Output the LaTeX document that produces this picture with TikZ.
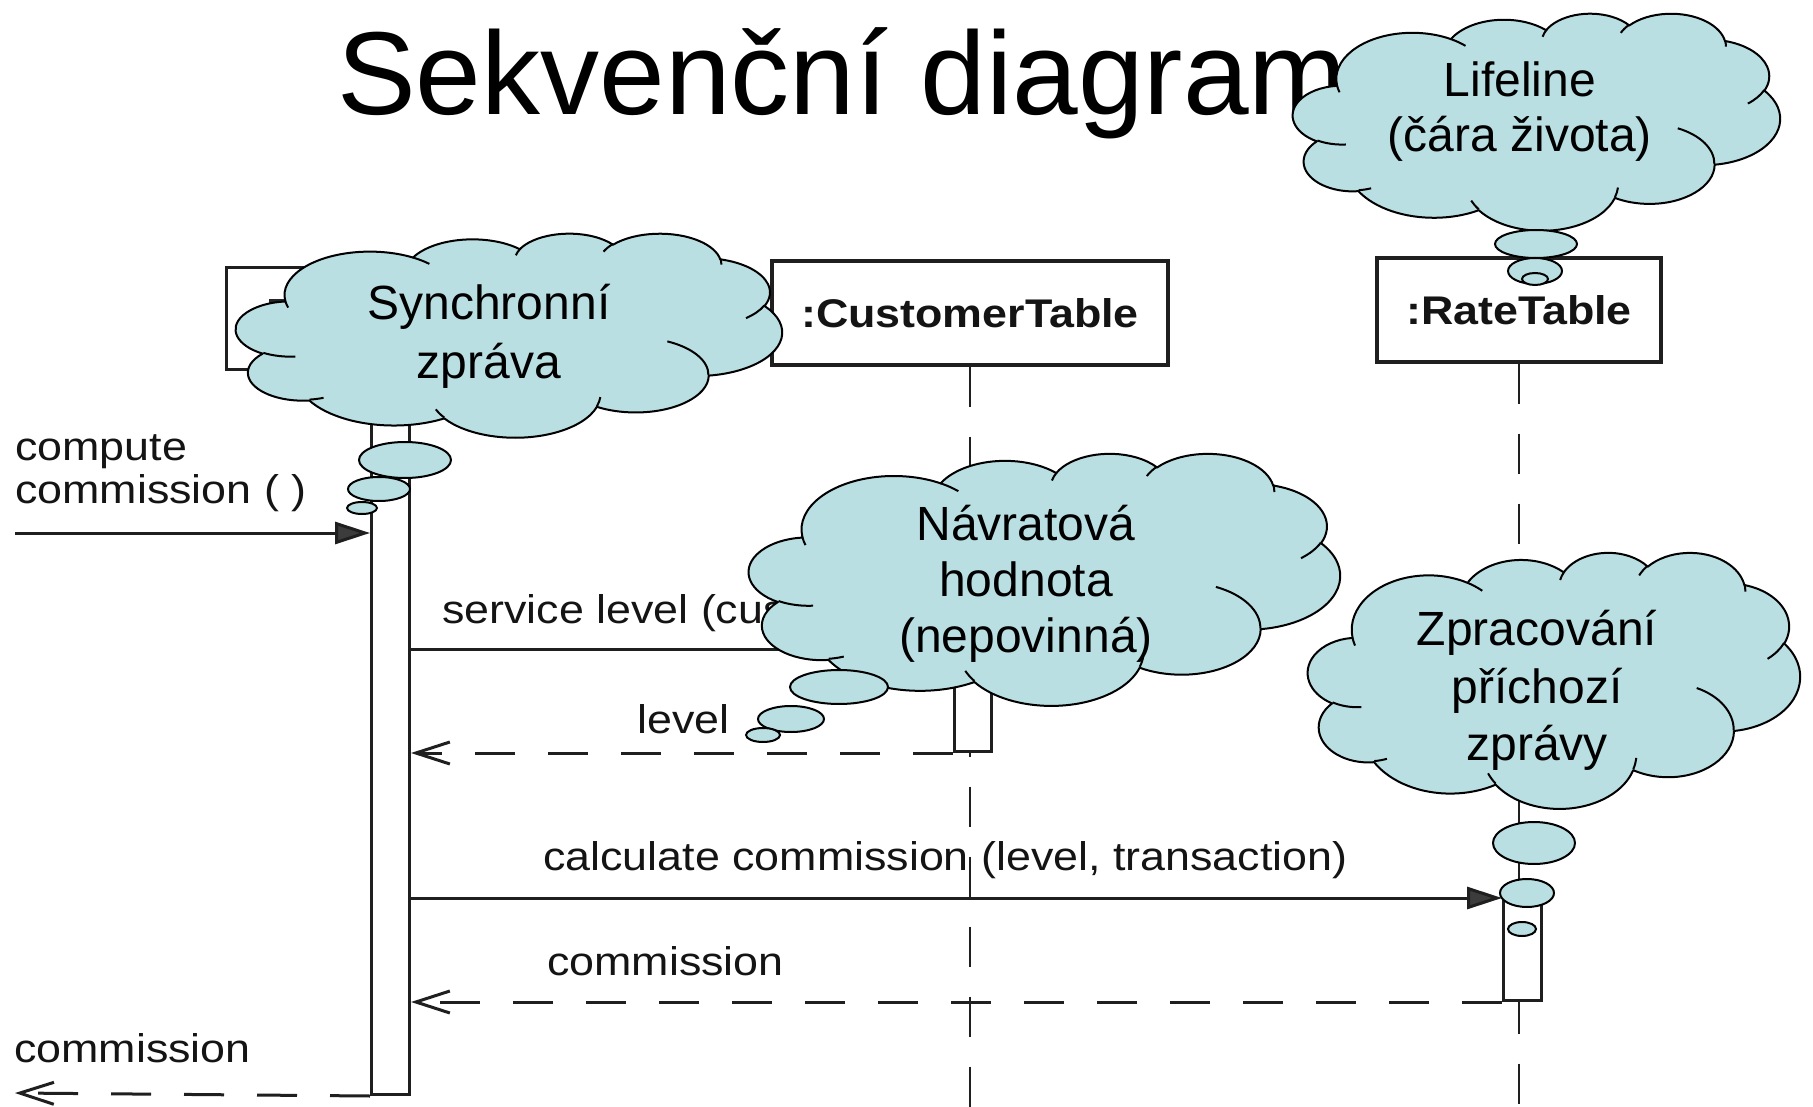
\documentclass[tikz,border=0pt]{standalone}
\usepackage{fontspec}
\setmainfont{Liberation Sans}
\newfontfamily\dfont[FakeStretch=1.12]{Liberation Sans}
\usetikzlibrary{arrows.meta}
\definecolor{cloudblue}{RGB}{185,223,227}
\definecolor{headgray}{RGB}{60,60,60}
\newcommand\carc[4]{arc[x radius=#1,y radius=#2,start angle={atan2((#1)*sin(#3),(#2)*cos(#3))},delta angle={mod(atan2((#1)*sin((#3)+(#4)),(#2)*cos((#3)+(#4)))-atan2((#1)*sin(#3),(#2)*cos(#3))+720,360)}]}
\newcommand\drawcloud[4]{%
\begin{scope}[shift={(#1,#2)},xscale={#3/432},yscale={#4/432}]
\filldraw[cloudshape] (39.00,143.70) \carc{67.53}{91.90}{-190.4875}{123.7805}
 \carc{53.33}{72.67}{-144.1024}{89.9452}
 \carc{43.65}{59.45}{-145.8079}{99.7230}
 \carc{48.57}{65.95}{-130.9861}{117.2417}
 \carc{53.33}{72.73}{-78.7089}{109.0269}
 \carc{67.75}{92.20}{-46.2673}{130.2690}
 \carc{57.85}{78.67}{0.6250}{114.0333}
 \carc{67.52}{92.15}{22.4516}{115.1726}
 \carc{77.20}{105.43}{66.2426}{75.7110}
 \carc{43.60}{59.18}{-274.9421}{146.7356}
 \carc{43.45}{59.45}{-246.8285}{152.5189} -- cycle;
\draw[cloudline] (46.93,261.77) \carc{43.45}{59.45}{86.7420}{26.4295}
 (69.28,348.99) \carc{43.60}{59.18}{73.6105}{11.4475}
 (164.78,390.90) \carc{67.52}{92.15}{137.6242}{14.0811}
 (288.27,347.51) \carc{67.52}{92.15}{6.4533}{15.9984}
 (341.29,229.54) \carc{57.85}{78.67}{-70.2924}{70.9174}
 (417.98,153.54) \carc{53.33}{72.73}{30.3180}{27.7515}
 (383.24,54.26) \carc{48.57}{65.95}{-13.7443}{14.8589}
 (290.78,39.52) \carc{48.57}{65.95}{-149.1815}{18.1954}
 (221.41,47.20) \carc{43.65}{59.45}{-163.4943}{17.6864}
 (140.00,51.92) \carc{67.53}{91.90}{-66.7070}{12.3194}
 (41.27,157.89) \carc{67.53}{91.90}{157.6544}{11.8582};
\end{scope}}
\tikzset{
 cloudshape/.style={draw=black,line width=2pt,fill=cloudblue,line join=round},
 cloudline/.style={draw=black,line width=2pt},
 bubble/.style={draw=black,line width=2pt,fill=cloudblue},
 objbox/.style={draw=black!88,line width=3.2pt,fill=white,inner sep=0pt},
 actbar/.style={draw=black!88,line width=3pt,fill=white,inner sep=0pt,anchor=north west},
 lifeline/.style={draw=black!88,line width=2.8pt,dash pattern=on 40pt off 30pt},
 callmsg/.style={draw=black!88,line width=3pt,-{Triangle[length=35pt,width=22pt,fill=headgray]}},
 retmsg/.style={draw=black!88,line width=3pt,dash pattern=on 40pt off 33pt,-{Straight Barb[length=34pt,width=22pt]}},
 lbl/.style={inner sep=0pt,anchor=base west,text=black!92,font=\dfont\fontsize{40}{46}\selectfont},
 objlbl/.style={text=black!92,font=\dfont\bfseries\fontsize{40}{46}\selectfont},
 cloudtxt/.style={inner sep=0pt,anchor=base,font=\fontsize{48}{56}\selectfont},
}
\begin{document}
\begin{tikzpicture}[x=1pt,y=-1pt]
\useasboundingbox (0,0) rectangle (1813,1107);
\fill[white] (0,0) rectangle (1813,1107);
% title
\node[anchor=base west,inner sep=0pt,font=\fontsize{118}{130}\selectfont] (title) at (337,115) {Sekvenční diagram};
% object boxes
\node[objbox,minimum width=335pt,minimum height=102pt,anchor=north west] (objA) at (225,266) {};
\fill[black!85] (269,299) rectangle (285,305);
\node[objbox,objlbl,minimum width=396pt,minimum height=104pt] (ct) at (970,313) {:CustomerTable};
\node[objbox,objlbl,minimum width=284pt,minimum height=104pt] (rt) at (1519,310) {:RateTable};
% lifelines
\coordinate (ctEnd) at (970,1107);
\coordinate (rtEnd) at (1519,1107);
\draw[lifeline] (ct.south) -- (ctEnd);
\draw[lifeline] (rt.south) -- (rtEnd);
% activation bars
\node[actbar,minimum width=38pt,minimum height=725pt] (barA) at (370,368) {};
\node[actbar,minimum width=37pt,minimum height=101pt] (barC) at (953,649) {};
\node[actbar,minimum width=38pt,minimum height=101pt] (barR) at (1502,898) {};
% messages
\coordinate (inStart) at (15,533);
\coordinate (outEnd) at (15,1093);
\draw[callmsg] (inStart) -- (barA.west |- inStart);
\draw[callmsg] (barA.east |- barC.north) -- (barC.north west);
\draw[retmsg] (barC.south west) -- (barA.east |- barC.south);
\draw[callmsg] (barA.east |- barR.north) -- (barR.north west);
\draw[retmsg] (barR.south west) -- (barA.east |- barR.south);
\draw[retmsg] (barA.south west) -- (outEnd);
% labels
\node[lbl] (lCompute) at (15,460) {compute};
\node[lbl] (lCompute2) at (15,503) {commission ( )};
\node[lbl] (lService) at (442,623) {service level (customer)};
\node[lbl] (lLevel) at (637,733) {level};
\node[lbl] (lCalc) at (543,870) {calculate commission (level, transaction)};
\node[lbl] (lComm) at (547,975) {commission};
\node[lbl] (lComm2) at (14,1062) {commission};
% cloud 1
\drawcloud{236}{233}{546}{204}
\draw[bubble] (405,460) ellipse [x radius=46,y radius=18];
\draw[bubble] (379,489) ellipse [x radius=31,y radius=12];
\draw[bubble] (362,508) ellipse [x radius=15,y radius=6];
\node[cloudtxt] (c1a) at (489,320) {Synchronní};
\node[cloudtxt] (c1b) at (489,378) {zpráva};
% cloud 2
\drawcloud{749}{453}{591}{252}
\draw[bubble] (839,687) ellipse [x radius=49,y radius=17];
\draw[bubble] (791,719) ellipse [x radius=33,y radius=13];
\draw[bubble] (763,735) ellipse [x radius=17,y radius=7];
\node[cloudtxt] (c2a) at (1026,540) {Návratová};
\node[cloudtxt] (c2b) at (1026,596) {hodnota};
\node[cloudtxt] (c2c) at (1026,652) {(nepovinná)};
% cloud 3
\drawcloud{1293}{13}{487}{217}
\draw[bubble] (1536,244) ellipse [x radius=41,y radius=14];
\draw[bubble] (1535,271) ellipse [x radius=27,y radius=13];
\draw[bubble] (1535,279) ellipse [x radius=13,y radius=6];
\node[cloudtxt] (c3a) at (1520,97) {Lifeline};
\node[cloudtxt] (c3b) at (1520,152) {(čára života)};
% cloud 4
\drawcloud{1308}{552}{492}{256}
\draw[bubble] (1534,843) ellipse [x radius=41,y radius=21];
\draw[bubble] (1527,893) ellipse [x radius=27,y radius=14];
\draw[bubble] (1522,929) ellipse [x radius=14,y radius=7];
\node[cloudtxt] (c4a) at (1537,645) {Zpracování};
\node[cloudtxt] (c4b) at (1537,703) {příchozí};
\node[cloudtxt] (c4c) at (1537,760) {zprávy};
\end{tikzpicture}
\end{document}
